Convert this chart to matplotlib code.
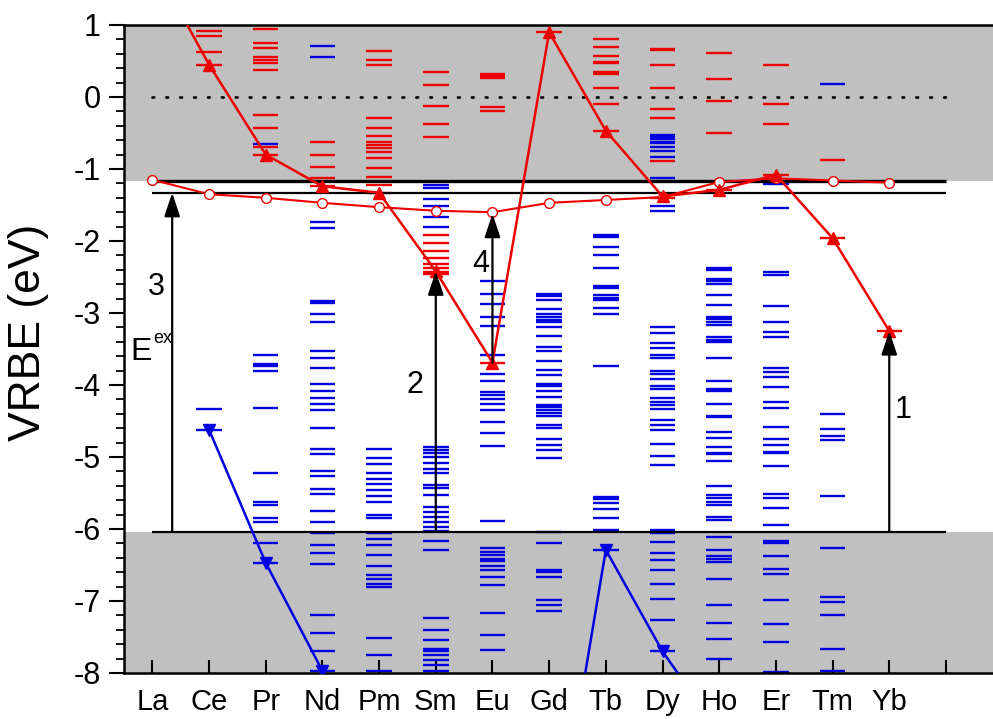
import numpy as np
import matplotlib
matplotlib.use("Agg")
import matplotlib.pyplot as plt
from matplotlib.ticker import MultipleLocator

plt.rcParams['font.family'] = ['Liberation Sans', 'DejaVu Sans']
plt.rcParams['axes.unicode_minus'] = False

# ---------------- data ----------------
elements = ['La', 'Ce', 'Pr', 'Nd', 'Pm', 'Sm', 'Eu', 'Gd', 'Tb', 'Dy', 'Ho', 'Er', 'Tm', 'Yb']

# 5d (circles) and 4f ground states (up / down triangles)
circle_line = [-1.15, -1.35, -1.40, -1.47, -1.53, -1.58, -1.60, -1.47, -1.43, -1.39, -1.18, -1.13, -1.16, -1.19]
tri_up_line = [1.88, 0.45, -0.80, -1.24, -1.33, -2.42, -3.69, 0.90, -0.47, -1.38, -1.29, -1.08, -1.96, -3.25]
tri_down_line = [np.nan, -4.62, -6.47, -7.97, -9.4, -9.9, -10.5, -11.0, -6.29, -7.70, -8.82, -9.3, -9.6, -10.2]

red_levels = {
    'La': [],
    'Ce': [0.92, 0.85, 0.63, 0.45],
    'Pr': [0.95, 0.75, 0.68, 0.56, 0.52, 0.47, 0.38, -0.25, -0.43, -0.69, -0.81],
    'Nd': [-0.63, -0.81, -0.97, -1.12, -1.24],
    'Pm': [0.64, 0.52, 0.44, -0.29, -0.43, -0.54, -0.63, -0.67, -0.71, -0.77, -0.85, -0.98, -1.11, -1.22, -1.33],
    'Sm': [0.35, 0.17, -0.13, -0.38, -0.55, -1.91, -2.03, -2.14, -2.24, -2.32, -2.38, -2.43, -2.46],
    'Eu': [0.32, 0.30, 0.28, 0.26, -0.14, -0.19, -3.70],
    'Gd': [0.90],
    'Tb': [0.81, 0.69, 0.57, 0.49, 0.47, 0.35, 0.32, 0.12, -0.10, -0.47],
    'Dy': [0.67, 0.65, 0.44, 0.12, -0.17, -0.29, -0.89, -1.40],
    'Ho': [0.61, 0.25, -0.06, -0.50, -1.29],
    'Er': [0.45, -0.10, -0.38, -1.08],
    'Tm': [-0.875, -1.96],
    'Yb': [-3.25],
}

blue_levels = {
    'La': [],
    'Ce': [-4.33, -4.62],
    'Pr': [-0.65, -3.58, -3.71, -3.74, -3.81, -4.32, -5.22, -5.63, -5.67, -5.85, -5.90, -6.20, -6.47],
    'Nd': [0.71, 0.55, -1.73, -1.82, -2.83, -2.86, -3.01, -3.13, -3.53, -3.63, -3.76, -3.99, -4.09, -4.18, -4.27,
           -4.35, -4.60, -4.89, -4.96, -5.20, -5.27, -5.44, -5.51, -5.75, -5.90, -6.06, -6.22, -6.34, -6.48,
           -7.19, -7.45, -7.70, -7.97],
    'Pm': [-4.89, -5.02, -5.10, -5.22, -5.31, -5.38, -5.46, -5.54, -5.62, -5.81, -5.85, -6.06, -6.14, -6.22,
           -6.36, -6.52, -6.64, -6.69, -6.76, -6.81, -7.52, -7.75, -7.97],
    'Sm': [-1.22, -1.27, -1.41, -1.52, -1.66, -1.80, -4.86, -4.90, -4.95, -5.00, -5.09, -5.16, -5.22, -5.39,
           -5.43, -5.53, -5.70, -5.76, -5.83, -5.90, -5.97, -6.03, -6.17, -6.29, -7.24, -7.40, -7.54, -7.66,
           -7.70, -7.75, -7.82, -7.89, -7.97],
    'Eu': [-2.56, -2.73, -2.87, -3.05, -3.18, -3.58, -3.85, -3.95, -4.10, -4.14, -4.19, -4.26, -4.35, -4.52,
           -4.66, -4.85, -5.89, -6.27, -6.32, -6.36, -6.41, -6.45, -6.51, -6.57, -6.66, -6.78, -7.16, -7.47, -7.68],
    'Gd': [-2.73, -2.77, -2.82, -2.94, -3.01, -3.05, -3.10, -3.13, -3.19, -3.32, -3.47, -3.53, -3.66, -3.79,
           -3.86, -3.98, -4.02, -4.09, -4.16, -4.28, -4.31, -4.35, -4.39, -4.43, -4.56, -4.60, -4.75, -4.83,
           -4.90, -5.02, -6.04, -6.19, -6.57, -6.60, -6.66, -6.99, -7.06, -7.14],
    'Tb': [-1.92, -1.94, -2.08, -2.19, -2.38, -2.63, -2.65, -2.75, -2.79, -2.82, -2.93, -3.02, -3.73, -5.55,
           -5.58, -5.64, -5.72, -5.85, -6.01, -6.29],
    'Dy': [-0.53, -0.56, -0.59, -0.62, -0.64, -0.70, -0.75, -0.84, -1.12, -1.52, -1.58, -3.19, -3.28, -3.42,
           -3.49, -3.58, -3.62, -3.81, -3.85, -3.91, -4.01, -4.05, -4.18, -4.23, -4.28, -4.33, -4.48, -4.55,
           -4.63, -4.82, -4.98, -5.11, -6.01, -6.06, -6.18, -6.34, -6.43, -6.57, -6.76, -6.97, -7.26, -7.70],
    'Ho': [-2.37, -2.40, -2.53, -2.56, -2.60, -2.75, -2.89, -3.05, -3.08, -3.12, -3.17, -3.34, -3.38, -3.40,
           -3.62, -3.95, -4.05, -4.08, -4.27, -4.43, -4.45, -4.65, -4.73, -4.86, -4.94, -4.96, -5.06, -5.40,
           -5.53, -5.57, -5.63, -5.67, -5.83, -5.88, -6.11, -6.29, -6.38, -6.42, -6.46, -6.69, -7.05, -7.30,
           -7.53, -7.81],
    'Er': [-1.21, -1.54, -2.43, -2.47, -2.90, -3.12, -3.26, -3.34, -3.76, -3.82, -3.89, -4.03, -4.24, -4.32,
           -4.58, -4.75, -4.83, -4.93, -4.95, -5.12, -5.51, -5.57, -5.71, -5.94, -6.17, -6.19, -6.38, -6.56,
           -6.62, -6.99, -7.32, -7.57, -7.98],
    'Tm': [0.18, -4.40, -4.61, -4.71, -4.77, -5.54, -6.26, -6.94, -7.01, -7.20, -7.67, -7.97],
    'Yb': [],
}

band_top = -1.17       # conduction band bottom
exciton_level = -1.33  # exciton level
band_bottom = -6.04    # valence band top
vacuum = 0.0

arrow_labels = ['1', '2', '3', '4']

# ---------------- figure ----------------
RED = '#EE0000'
BLUE = '#0000E0'
GRAY = '#C0C0C0'

fig = plt.figure(figsize=(9.93, 7.19), dpi=100)
ax = fig.add_axes([124 / 993, 46 / 719, 1 - 124 / 993, 648 / 719])
ax.set_xlim(0.5, 15.83)
ax.set_ylim(-8, 1)

x = np.arange(1, len(elements) + 1)
xend = 15

# gray regions
ax.axhspan(band_top, 1, color=GRAY, zorder=0, lw=0)
ax.axhspan(-8, band_bottom, color=GRAY, zorder=0, lw=0)

# level bars
hw = 0.225
for i, el in enumerate(elements):
    xb = x[i]
    if blue_levels[el]:
        ax.hlines(blue_levels[el], xb - hw, xb + hw, colors=BLUE, lw=1.7, zorder=2)
    if red_levels[el]:
        ax.hlines(red_levels[el], xb - hw, xb + hw, colors=RED, lw=1.7, zorder=2)

# horizontal reference lines
ax.hlines(band_top, 1, xend, colors='black', lw=2.4, zorder=3)
ax.hlines(exciton_level, 1, xend, colors='black', lw=1.6, zorder=3)
ax.hlines(band_bottom, 1, xend, colors='black', lw=1.6, zorder=3)
ax.plot([1, xend], [vacuum, vacuum], color='black', lw=2.0, linestyle=(0, (0.6, 4.4)),
        dash_capstyle='round', zorder=3)

# curves
ax.plot(x, circle_line, color=RED, lw=1.5, marker='o', ms=7, mfc='white', mec=RED, mew=1.0, zorder=5)
ax.plot(x, tri_up_line, color=RED, lw=1.8, marker='^', ms=8, mfc=RED, mec=RED, zorder=6)
ax.plot(x, tri_down_line, color=BLUE, lw=1.8, marker='v', ms=8, mfc=BLUE, mec=BLUE, zorder=6)

# arrows
arrow_specs = [
    (14.0, band_bottom, tri_up_line[13]),
    (6.0, band_bottom, tri_up_line[5]),
    (1.35, band_bottom, exciton_level),
    (7.0, tri_up_line[6], circle_line[6] - 0.02),
]
for xa, y0, y1 in arrow_specs:
    ax.annotate('', xy=(xa, y1), xytext=(xa, y0),
                arrowprops=dict(arrowstyle='-|>,head_length=0.6,head_width=0.2', color='black',
                                lw=1.6, mutation_scale=24, shrinkA=0, shrinkB=0),
                zorder=7)

label_pos = [(14.25, -4.35), (5.64, -4.0), (1.07, -2.64), (6.80, -2.32)]
for t, (xt, yt) in zip(arrow_labels, label_pos):
    ax.text(xt, yt, t, fontsize=22, ha='center', va='center', zorder=8)

ax.text(0.61, -3.54, 'E', fontsize=23, ha='left', va='center', zorder=8)
ax.text(1.02, -3.36, 'ex', fontsize=13, ha='left', va='center', zorder=8)

# axes styling
for side in ['left', 'bottom', 'top']:
    ax.spines[side].set_linewidth(1.8)
ax.spines['right'].set_visible(False)

ax.set_xticks(np.arange(1, xend + 1))
ax.set_xticklabels(elements + [''], fontsize=21)
ax.tick_params(axis='x', direction='in', length=9.5, width=1.5, pad=11, top=False)
ax.set_yticks(np.arange(-8, 2, 1))
ax.yaxis.set_minor_locator(MultipleLocator(0.2))
ax.tick_params(axis='y', which='major', direction='out', length=11, width=1.5, labelsize=22, pad=6)
ax.tick_params(axis='y', which='minor', direction='out', length=5.5, width=1.3)

fig.text(29 / 993, 1 - 332 / 719, 'VRBE (eV)', fontsize=32, rotation=90, ha='center', va='center')

fig.savefig('out.png', dpi=100)
